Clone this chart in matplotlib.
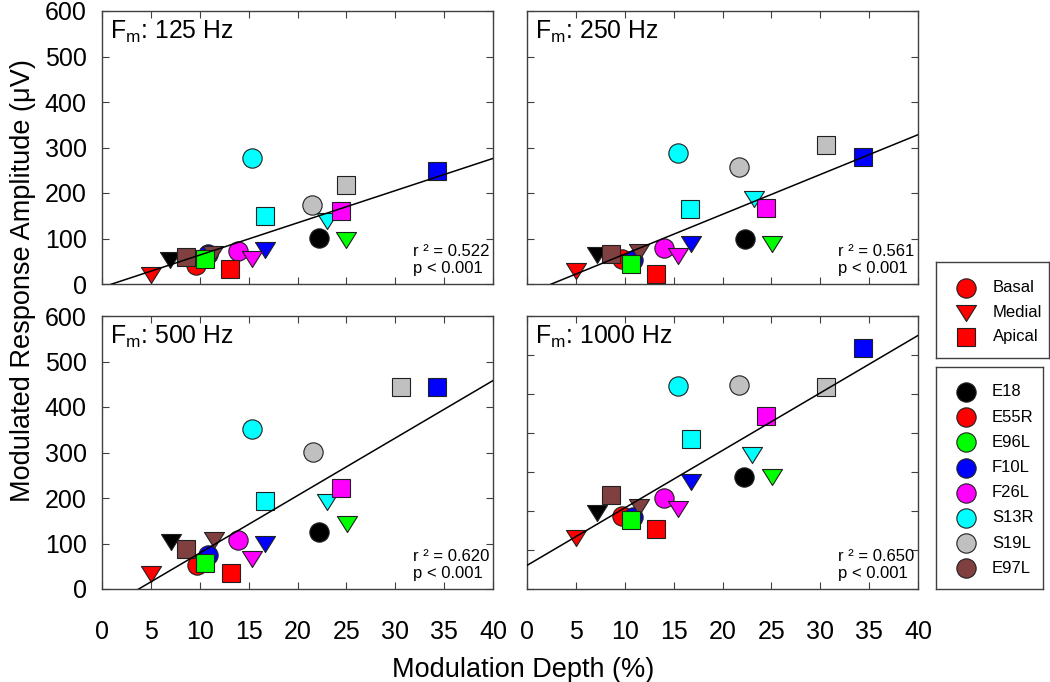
import matplotlib
matplotlib.use("Agg")
import matplotlib.pyplot as plt
import numpy as np

plt.rcParams['font.family'] = ['Liberation Sans', 'DejaVu Sans']
plt.rcParams['mathtext.fontset'] = 'custom'
plt.rcParams['mathtext.rm'] = 'Liberation Sans'
plt.rcParams['mathtext.it'] = 'Liberation Sans'

# ---------------- data ----------------
subjects = ['E18', 'E55R', 'E96L', 'F10L', 'F26L', 'S13R', 'S19L', 'E97L']
subject_colors = ['#000000', '#FF0000', '#00FF00', '#0000FF', '#FF00FF', '#00FFFF', '#C0C0C0', '#804040']
positions = ['Basal', 'Medial', 'Apical']

point_subject = ['E18', 'E18', 'E55R', 'E55R', 'E55R', 'E96L', 'E96L',
                 'F10L', 'F10L', 'F10L', 'F26L', 'F26L', 'F26L',
                 'S13R', 'S13R', 'S13R', 'S19L', 'S19L', 'E97L', 'E97L']
point_position = ['Basal', 'Medial', 'Basal', 'Medial', 'Apical', 'Medial', 'Apical',
                  'Basal', 'Medial', 'Apical', 'Basal', 'Medial', 'Apical',
                  'Basal', 'Medial', 'Apical', 'Basal', 'Apical', 'Medial', 'Apical']

panel_titles = ['125 Hz', '250 Hz', '500 Hz', '1000 Hz']

depth_125 = [22.15, 7.0, 9.66, 4.98, 13.1, 25.0, 10.5, 10.8, 16.65, 34.3, 13.9, 15.36, 24.4,
             15.36, 23.0, 16.65, 21.5, 24.95, 11.4, 8.57]
amp_125 = [102, 52, 42, 19, 34, 97, 55, 65, 75, 249, 72, 56, 161, 278, 138, 150, 173, 217, 67, 59]

depth_250 = [22.3, 7.17, 9.74, 5.06, 13.2, 25.1, 10.6, 10.86, 16.8, 34.4, 14.0, 15.44, 24.5,
             15.44, 23.2, 16.7, 21.7, 30.6, 11.45, 8.64]
amp_250 = [99, 64, 55, 28, 23, 89, 45, 53, 89, 280, 79, 61, 168, 287, 187, 165, 258, 306, 70, 67]

depth_500 = [22.24, 7.1, 9.67, 4.99, 13.19, 25.04, 10.52, 10.86, 16.67, 34.3, 13.94, 15.37, 24.4,
             15.37, 23.06, 16.67, 21.6, 30.6, 11.44, 8.57]
amp_500 = [126, 104, 53, 34, 35, 143, 57, 74, 100, 443, 107, 66, 223, 352, 192, 194, 302, 443, 107, 89]

depth_1000 = [22.24, 7.17, 9.74, 5.06, 13.19, 25.07, 10.59, 10.86, 16.74, 34.33, 14.0, 15.44, 24.46,
              15.44, 23.06, 16.74, 21.7, 30.57, 11.44, 8.64]
amp_1000 = [288, 194, 188, 130, 155, 286, 177, 184, 274, 618, 233, 205, 444, 520, 344, 384, 523, 517, 210, 240]

fit_slope = [7.08, 8.75, 12.64, 14.74]
fit_intercept = [-7.2, -21.9, -47.5, 60.5]
r_squared = ['0.522', '0.561', '0.620', '0.650']
p_text = ['p < 0.001', 'p < 0.001', 'p < 0.001', 'p < 0.001']
y_max = [600, 600, 600, 700]

x_ticks = [0, 5, 10, 15, 20, 25, 30, 35, 40]

depths = [depth_125, depth_250, depth_500, depth_1000]
amps = [amp_125, amp_250, amp_500, amp_1000]

# ---------------- style ----------------
W, H = 1050, 682
fig = plt.figure(figsize=(W / 100, H / 100), dpi=100)

tri_down = [(-1, 0.8), (1, 0.8), (0, -0.8), (-1, 0.8)]
marker_for = {'Basal': 'o', 'Medial': tri_down, 'Apical': 's'}
size_for = {'Basal': 13.9, 'Medial': 14.4, 'Apical': 12.5}
color_for = dict(zip(subjects, subject_colors))
spine_col = '#404040'

ax_w = 391 / W
ax_h = 273 / H
lefts = [102 / W, 527 / W, 102 / W, 527 / W]
bottoms = [(H - 284) / H, (H - 284) / H, (H - 589) / H, (H - 589) / H]

for k in range(4):
    ax = fig.add_axes([lefts[k], bottoms[k], ax_w, ax_h])
    ax.set_xlim(0, 40)
    ax.set_ylim(0, y_max[k])
    ax.set_xticks(x_ticks)
    ax.set_yticks(list(range(0, y_max[k] + 1, 100)))
    ax.tick_params(direction='in', top=True, right=True, length=5, width=0.8,
                   color=spine_col, labelsize=18)
    ax.tick_params(axis='x', pad=22)
    ax.tick_params(axis='y', pad=11)
    for sp in ax.spines.values():
        sp.set_color(spine_col)
        sp.set_linewidth(1.0)
    if k < 2:
        ax.set_xticklabels([])
    if k in (1, 3):
        ax.set_yticklabels([])

    xs = depths[k]
    ys = amps[k]
    z = 3
    for pos in positions:
        for i in range(len(xs)):
            if point_position[i] != pos:
                continue
            ax.plot(xs[i], ys[i], linestyle='none', marker=marker_for[pos],
                    markersize=size_for[pos], markerfacecolor=color_for[point_subject[i]],
                    markeredgecolor='#202020', markeredgewidth=0.8, zorder=z, clip_on=False)
            z += 0.01
    xl = np.array([0, 40])
    ax.plot(xl, fit_slope[k] * xl + fit_intercept[k], color='black', linewidth=1.1, zorder=10)

    ax.text(0.02, 0.897, r'F$_{\mathregular{m}}$: ' + panel_titles[k], transform=ax.transAxes,
            fontsize=17.8, ha='left', va='baseline')
    ax.text(0.795, 0.1026, 'r \u00b2 = ' + r_squared[k], transform=ax.transAxes,
            fontsize=12, ha='left', va='baseline')
    ax.text(0.795, 0.040, p_text[k], transform=ax.transAxes,
            fontsize=12, ha='left', va='baseline')

fig.text(23 / W, 1 - 281 / H, 'Modulated Response Amplitude (\u03bcV)', rotation=90,
         ha='center', va='center', fontsize=19.5)
fig.text(392 / W, 1 - 677 / H, 'Modulation Depth (%)', ha='left', va='baseline', fontsize=19.5)

# ---------------- legends (drawn as boxes) ----------------
def legend_box(x0, y0, x1, y1):
    lax = fig.add_axes([x0 / W, 1 - y1 / H, (x1 - x0) / W, (y1 - y0) / H])
    lax.set_xlim(x0, x1)
    lax.set_ylim(y1, y0)
    lax.set_xticks([])
    lax.set_yticks([])
    for sp in lax.spines.values():
        sp.set_color(spine_col)
        sp.set_linewidth(1.0)
    return lax

lax1 = legend_box(936, 262, 1049, 358)
for i, pos in enumerate(positions):
    yy = 288 + 24.5 * i
    lax1.plot(966, yy, linestyle='none', marker=marker_for[pos], markersize=size_for[pos],
              markerfacecolor='#FF0000', markeredgecolor='#202020', markeredgewidth=0.8)
    lax1.text(993, yy, pos, fontsize=12, ha='left', va='center')

lax2 = legend_box(936, 367, 1043, 589)
for i, s in enumerate(subjects):
    yy = 392 + 25.2 * i
    lax2.plot(966, yy, linestyle='none', marker='o', markersize=13.9,
              markerfacecolor=subject_colors[i], markeredgecolor='#202020', markeredgewidth=0.8)
    lax2.text(992, yy, s, fontsize=12, ha='left', va='center')

fig.savefig('out.png', dpi=100)
